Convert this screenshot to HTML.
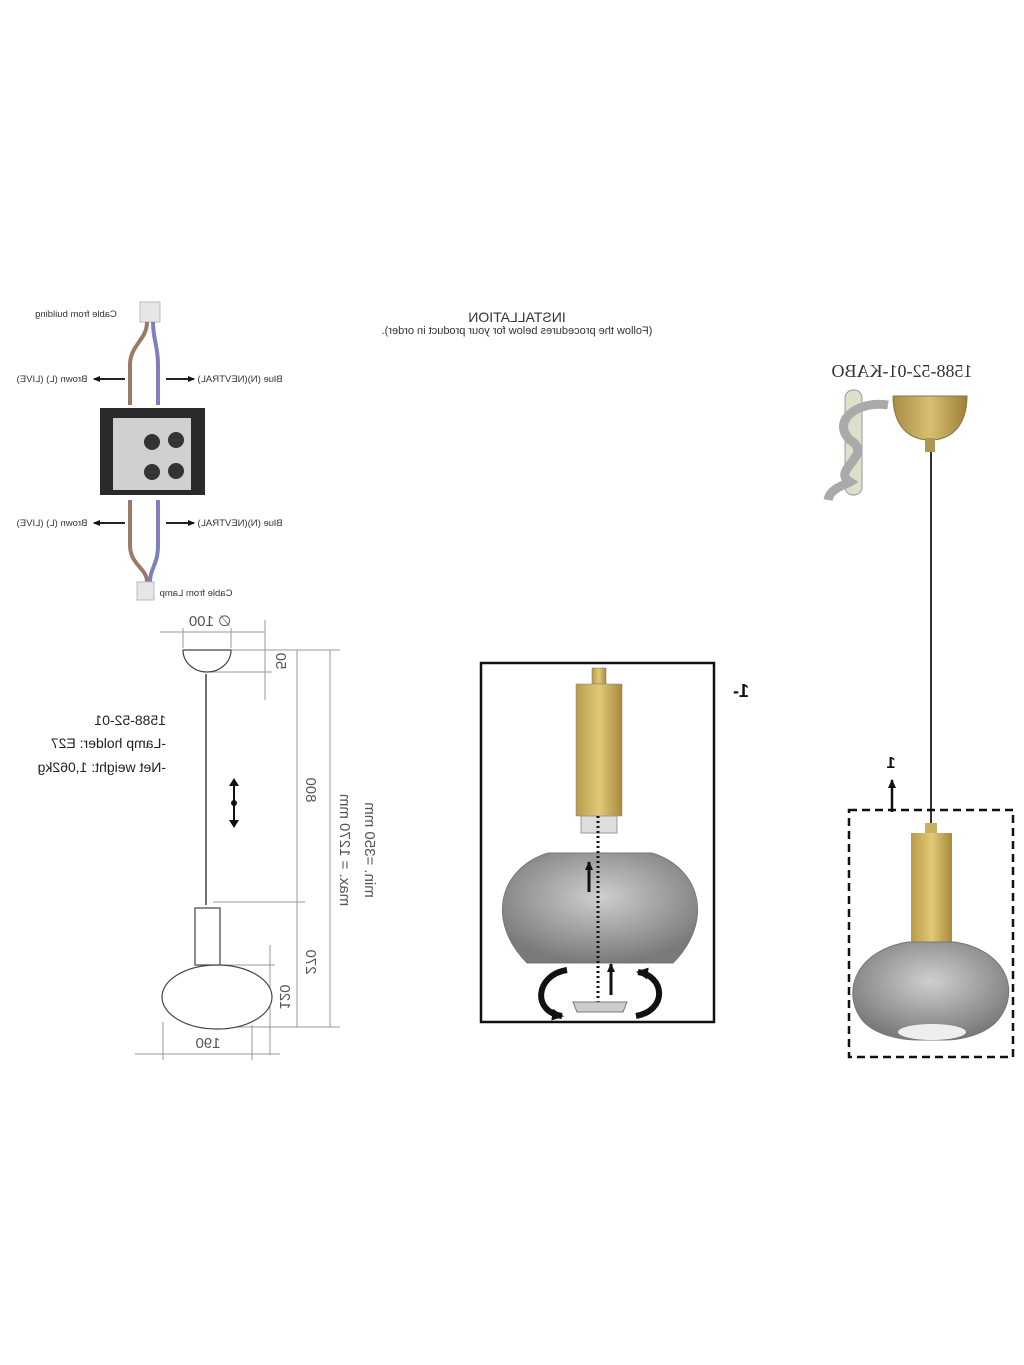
<!DOCTYPE html>
<html><head><meta charset="utf-8"><style>
html,body{margin:0;padding:0;background:#fff;}
svg{display:block;font-family:"Liberation Sans",sans-serif;}
</style></head><body>
<svg width="1024" height="1365" viewBox="0 0 1024 1365" xmlns="http://www.w3.org/2000/svg">
<defs>
<linearGradient id="gold" x1="0" x2="1"><stop offset="0" stop-color="#b89a4a"/><stop offset="0.5" stop-color="#e2c878"/><stop offset="1" stop-color="#a88a3c"/></linearGradient>
<radialGradient id="glass" cx="0.5" cy="0.4" r="0.6"><stop offset="0" stop-color="#cfcfcf"/><stop offset="1" stop-color="#7a7a7a"/></radialGradient>
<linearGradient id="dome" x1="0" x2="1"><stop offset="0" stop-color="#a88c44"/><stop offset="0.5" stop-color="#d8bf70"/><stop offset="1" stop-color="#9c8038"/></linearGradient>
<marker id="ah" markerUnits="userSpaceOnUse" markerWidth="10" markerHeight="10" refX="8" refY="5" orient="auto"><path d="M0,1 L9,5 L0,9z" fill="#111"/></marker>
<marker id="as" markerUnits="userSpaceOnUse" markerWidth="8" markerHeight="8" refX="6" refY="4" orient="auto"><path d="M0,1 L7,4 L0,7z" fill="#111"/></marker>
<marker id="ab" markerUnits="userSpaceOnUse" markerWidth="16" markerHeight="16" refX="10" refY="8" orient="auto"><path d="M0,2 L12,8 L0,14z" fill="#111"/></marker>
</defs>

<!-- Wiring diagram -->
<rect x="140" y="302" width="20" height="20" fill="#e6e6e6" stroke="#bbb"/>
<path d="M147,322 C147,340 130,345 130,365 L130,405" stroke="#9a7a66" stroke-width="4" fill="none"/>
<path d="M153,322 C153,340 158,345 158,365 L158,405" stroke="#7f7fc0" stroke-width="4" fill="none"/>
<rect x="100" y="408" width="105" height="87" fill="#2a2a2a"/>
<rect x="113" y="418" width="78" height="72" fill="#d0d0d0"/>
<circle cx="152" cy="442" r="8" fill="#333"/><circle cx="176" cy="440" r="8" fill="#333"/>
<circle cx="152" cy="472" r="8" fill="#333"/><circle cx="176" cy="471" r="8" fill="#333"/>
<path d="M130,500 L130,545 C130,565 147,568 147,582" stroke="#9a7a66" stroke-width="4" fill="none"/>
<path d="M158,500 L158,545 C158,565 150,568 150,582" stroke="#7f7fc0" stroke-width="4" fill="none"/>
<rect x="137" y="582" width="17" height="18" fill="#e6e6e6" stroke="#bbb"/>
<line x1="125" y1="379" x2="94" y2="379" stroke="#222" stroke-width="2" marker-end="url(#as)"/>
<line x1="166" y1="379" x2="194" y2="379" stroke="#222" stroke-width="2" marker-end="url(#as)"/>
<line x1="125" y1="523" x2="94" y2="523" stroke="#222" stroke-width="2" marker-end="url(#as)"/>
<line x1="166" y1="523" x2="194" y2="523" stroke="#222" stroke-width="2" marker-end="url(#as)"/>
<g font-size="9.5" fill="#333">
<text transform="translate(76,317) scale(-1,1)" text-anchor="middle">Cable from building</text>
<text transform="translate(52,382) scale(-1,1)" text-anchor="middle">Brown (L) (LIVE)</text>
<text transform="translate(240,382) scale(-1,1)" text-anchor="middle">Blue (N)(NEVTRAL)</text>
<text transform="translate(52,526) scale(-1,1)" text-anchor="middle">Brown (L) (LIVE)</text>
<text transform="translate(240,526) scale(-1,1)" text-anchor="middle">Blue (N)(NEVTRAL)</text>
<text transform="translate(196,596) scale(-1,1)" text-anchor="middle">Cable from Lamp</text>
</g>

<!-- Title -->
<text transform="translate(517,322) scale(-1,1)" text-anchor="middle" font-size="14" fill="#333">INSTALLATION</text>
<text transform="translate(517,334) scale(-1,1)" text-anchor="middle" font-size="11" fill="#333">(Follow the procedures below for your product in order).</text>

<!-- Left dimension drawing -->
<g stroke="#999" stroke-width="1" fill="none">
<line x1="160" y1="632" x2="265" y2="632"/>
<line x1="183" y1="628" x2="183" y2="648"/><line x1="231" y1="628" x2="231" y2="648"/>
<line x1="265" y1="620" x2="265" y2="700"/>
<line x1="231" y1="650" x2="340" y2="650"/><line x1="210" y1="672" x2="272" y2="672"/>
<line x1="297" y1="650" x2="297" y2="1027"/>
<line x1="330" y1="650" x2="330" y2="1027"/>
<line x1="213" y1="902" x2="305" y2="902"/>
<line x1="270" y1="945" x2="270" y2="1055"/>
<line x1="222" y1="965" x2="275" y2="965"/>
<line x1="217" y1="1027" x2="340" y2="1027"/>
<line x1="135" y1="1054" x2="280" y2="1054"/>
<line x1="163" y1="1022" x2="163" y2="1060"/><line x1="252" y1="1025" x2="252" y2="1060"/>
</g>
<path d="M183,650 L231,650 A24,22 0 0 1 183,650z" fill="#fff" stroke="#444" stroke-width="1.2"/>
<line x1="206" y1="674" x2="206" y2="905" stroke="#444" stroke-width="1.5"/>
<rect x="195" y="908" width="25" height="57" fill="#fff" stroke="#444" stroke-width="1.2"/>
<ellipse cx="217" cy="997" rx="55" ry="32" fill="#fff" stroke="#444" stroke-width="1.2"/>
<line x1="234" y1="780" x2="234" y2="826" stroke="#111" stroke-width="2"/>
<path d="M229,786 L234,778 L239,786z M229,820 L234,828 L239,820z" fill="#111"/><circle cx="234" cy="803" r="3" fill="#111"/>
<g fill="#555" font-size="15">
<text transform="translate(210,626) scale(-1,1)" text-anchor="middle">∅ 100</text>
<text transform="translate(208,1048) scale(-1,1)" text-anchor="middle">190</text>
<text transform="translate(276,661) rotate(90) scale(-1,1)" text-anchor="middle">50</text>
<text transform="translate(306,790) rotate(90) scale(-1,1)" text-anchor="middle">800</text>
<text transform="translate(306,962) rotate(90) scale(-1,1)" text-anchor="middle">270</text>
<text transform="translate(280,997) rotate(90) scale(-1,1)" text-anchor="middle">120</text>
<text transform="translate(340,850) rotate(90) scale(-1,1)" text-anchor="middle">max. = 1270 mm</text>
<text transform="translate(365,850) rotate(90) scale(-1,1)" text-anchor="middle">min. =350 mm</text>
</g>
<g fill="#222" font-size="14">
<text transform="translate(166,725) scale(-1,1)">1588-52-01</text>
<text transform="translate(166,748) scale(-1,1)">-Lamp holder: E27</text>
<text transform="translate(166,772) scale(-1,1)">-Net weight: 1,062kg</text>
</g>

<!-- Middle box -->
<rect x="481" y="663" width="233" height="359" fill="none" stroke="#111" stroke-width="2.5"/>
<text transform="translate(741,697) scale(-1,1)" text-anchor="middle" font-size="18" font-weight="bold" fill="#111">1-</text>
<rect x="592" y="668" width="14" height="16" fill="url(#gold)" stroke="#776" stroke-width="0.5"/>
<rect x="576" y="684" width="46" height="132" fill="url(#gold)" stroke="#887" stroke-width="0.5"/>
<rect x="581" y="816" width="36" height="17" fill="#ddd" stroke="#999"/>
<path d="M548,853 L652,853 C700,868 715,920 673,963 L527,963 C485,920 500,868 548,853z" fill="url(#glass)" stroke="#777"/>
<line x1="598" y1="816" x2="598" y2="1003" stroke="#111" stroke-width="3" stroke-dasharray="2,3"/>
<line x1="589" y1="892" x2="589" y2="862" stroke="#111" stroke-width="3" marker-end="url(#ah)"/>
<line x1="611" y1="995" x2="611" y2="964" stroke="#111" stroke-width="3" marker-end="url(#ah)"/>
<path d="M573,1002 L627,1002 L623,1012 L577,1012z" fill="#ccc" stroke="#777"/>
<path d="M567,970 C535,975 532,1012 562,1016" stroke="#111" stroke-width="6" fill="none" marker-end="url(#ab)"/>
<path d="M636,1016 C668,1010 665,976 638,972" stroke="#111" stroke-width="6" fill="none" marker-end="url(#ab)"/>

<!-- Right -->
<text transform="translate(902,377) scale(-1,1)" text-anchor="middle" font-size="18" font-family="Liberation Serif,serif" fill="#333">1588-52-01-KABO</text>
<rect x="845" y="390" width="17" height="105" rx="8" fill="#dfe0cc" stroke="#999"/>
<path d="M888,405 C860,400 830,420 850,440 C875,455 830,470 850,482 C845,485 830,488 828,500" stroke="#aaa" stroke-width="9" fill="none"/>
<path d="M893,396 L967,396 C967,425 952,440 930,440 C908,440 893,425 893,396z" fill="url(#dome)" stroke="#8a7a40"/>
<rect x="925" y="438" width="10" height="14" fill="#b09850"/>
<line x1="931" y1="452" x2="931" y2="826" stroke="#333" stroke-width="2"/>
<rect x="849" y="810" width="164" height="247" fill="none" stroke="#111" stroke-width="2.5" stroke-dasharray="8,5"/>
<line x1="892" y1="812" x2="892" y2="780" stroke="#111" stroke-width="2.5" marker-end="url(#ah)"/>
<text transform="translate(891,768) scale(-1,1)" text-anchor="middle" font-size="16" font-weight="bold" fill="#111">1</text>
<rect x="925" y="823" width="12" height="11" fill="#c8b060"/>
<rect x="911" y="833" width="41" height="110" fill="url(#gold)"/>
<path d="M908,942 L955,942 C1005,950 1022,990 998,1020 C985,1035 960,1040 945,1040 L918,1040 C900,1040 875,1035 862,1020 C840,990 858,950 908,942z" fill="url(#glass)" stroke="#777"/>
<ellipse cx="932" cy="1032" rx="34" ry="8" fill="#eee"/>
</svg>
</body></html>
